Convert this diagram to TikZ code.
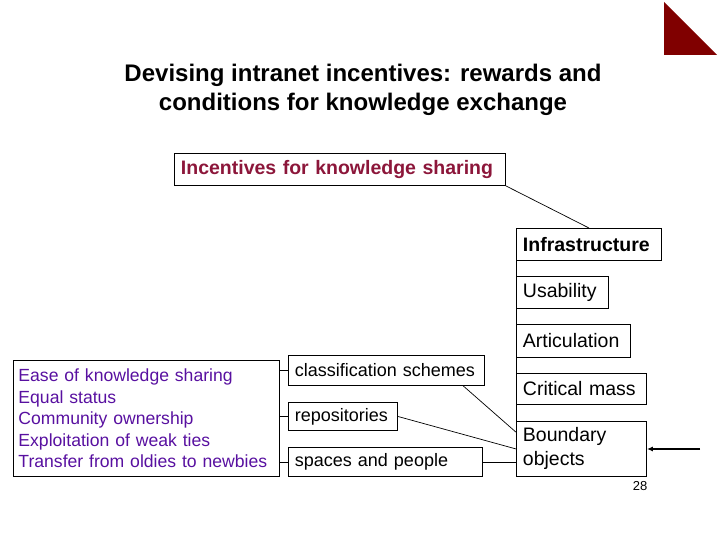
\documentclass[tikz,border=0pt]{standalone}
\usepackage{fontspec}
\setmainfont{Liberation Sans}
\usetikzlibrary{arrows.meta,calc}
\definecolor{incred}{RGB}{140,22,58}
\definecolor{lpurple}{RGB}{88,16,160}
\definecolor{tri}{RGB}{128,0,0}
\tikzset{
  bx/.style={draw=black, line width=0.9pt, anchor=north west, inner xsep=6.5pt, inner ysep=0pt, align=left},
  rfont/.style={font=\fontsize{19.5}{23}\selectfont},
  sfont/.style={font=\fontsize{18}{21.5}\selectfont},
  conn/.style={draw=black, line width=0.7pt}
}
\begin{document}
\begin{tikzpicture}[x=1pt,y=-1pt]
\useasboundingbox (0,0) rectangle (720,540);
\fill[tri] (664,2) -- (664,55) -- (717,55) -- cycle;
\node[align=center, font=\fontsize{24}{29}\selectfont\bfseries] (title) at (363,89.5)
  {Devising intranet incentives: rewards and\\conditions for knowledge exchange};
\node[bx, minimum width=331pt, minimum height=32pt, text width=318pt,
  font=\fontsize{19.5}{23}\selectfont\bfseries, text=incred] (inc) at (174,153) {Incentives for knowledge sharing};
\node[bx, minimum width=145pt, minimum height=32pt, text width=132pt,
  font=\fontsize{19.5}{23}\selectfont\bfseries] (infra) at (516,228) {Infrastructure};
\node[bx, rfont, minimum width=92pt, minimum height=32pt, text width=79pt] (usab) at (516,276) {Usability};
\node[bx, rfont, minimum width=114pt, minimum height=33pt, text width=101pt] (artic) at (516,324) {Articulation};
\node[bx, rfont, minimum width=130pt, minimum height=31pt, text width=117pt] (crit) at (516,373) {Critical mass};
\node[bx, font=\fontsize{19.5}{24}\selectfont, minimum width=130pt, minimum height=55pt, text width=117pt] (bound) at (516,421) {Boundary\\objects};
\node[bx, font=\fontsize{17.6}{21.5}\selectfont, text=lpurple, inner xsep=5pt, minimum width=266pt, minimum height=116pt, text width=256pt] (left) at (13,360)
  {\hyphenpenalty=10000 Ease of knowledge sharing\\Equal status\\Community ownership\\Exploitation of weak ties\\Transfer from oldies to newbies};
\node[bx, sfont, minimum width=196pt, minimum height=30pt, text width=183pt] (class) at (288,355) {classification schemes};
\node[bx, sfont, minimum width=109pt, minimum height=28pt, text width=96pt] (repo) at (288,402) {repositories};
\node[bx, sfont, minimum width=194pt, minimum height=29pt, text width=181pt] (spaces) at (288,447) {spaces and people};
\node[font=\fontsize{13}{15}\selectfont] (pnum) at (640,486) {28};
% connectors
\draw[conn] (inc.south east) -- (infra.north);
\draw[conn] (infra.south west) -- (bound.north west);
\draw[conn] (left.east |- class.west) -- (class.west);
\draw[conn] (left.east |- repo.west) -- (repo.west);
\draw[conn] (left.east |- spaces.west) -- (spaces.west);
\draw[conn] ($(class.south west)!0.89!(class.south east)$) -- ($(bound.north west)!0.2!(bound.south west)$);
\draw[conn] (repo.east) -- (bound.west);
\draw[conn] (spaces.east) -- (spaces.east -| bound.west);
\coordinate (arrs) at (700,449);
\draw[line width=1.6pt, -{Latex[length=6pt,width=5pt]}] (arrs) -- (arrs -| bound.east);
\end{tikzpicture}
\end{document}
